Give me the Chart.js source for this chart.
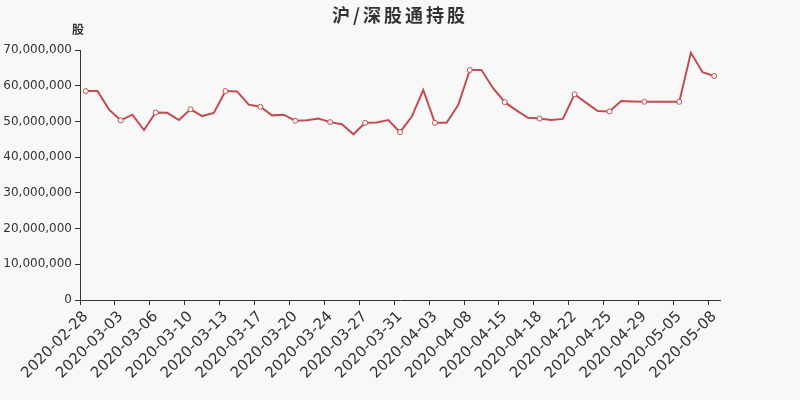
<!DOCTYPE html>
<html>
<head>
<meta charset="utf-8">
<script src="https://cdn.jsdelivr.net/npm/chart.js@4"></script>
<style>
  html, body { margin: 0; padding: 0; background: #f8f8f8; }
  #wrap { width: 800px; height: 400px; }
</style>
</head>
<body>
<div id="wrap"><canvas id="holdChart" width="800" height="400"></canvas></div>
<script>
const dates = [
  "2020-02-28", "2020-02-29", "2020-03-02", "2020-03-03", "2020-03-04", "2020-03-05",
  "2020-03-06", "2020-03-07", "2020-03-09", "2020-03-10", "2020-03-11", "2020-03-12",
  "2020-03-13", "2020-03-14", "2020-03-16", "2020-03-17", "2020-03-18", "2020-03-19",
  "2020-03-20", "2020-03-21", "2020-03-23", "2020-03-24", "2020-03-25", "2020-03-26",
  "2020-03-27", "2020-03-28", "2020-03-30", "2020-03-31", "2020-04-01", "2020-04-02",
  "2020-04-03", "2020-04-04", "2020-04-07", "2020-04-08", "2020-04-09", "2020-04-14",
  "2020-04-15", "2020-04-16", "2020-04-17", "2020-04-18", "2020-04-20", "2020-04-21",
  "2020-04-22", "2020-04-23", "2020-04-24", "2020-04-25", "2020-04-27", "2020-04-28",
  "2020-04-29", "2020-04-30", "2020-05-04", "2020-05-05", "2020-05-06", "2020-05-07",
  "2020-05-08"
];

// shares held, in millions
const holdings = [
  58.5, 58.5, 53.3, 50.3, 51.9, 47.6, 52.5, 52.4, 50.4, 53.4, 51.5, 52.4,
  58.5, 58.4, 54.7, 54.1, 51.7, 51.9, 50.2, 50.3, 50.8, 49.8, 49.2, 46.4,
  49.6, 49.7, 50.4, 47.0, 51.3, 58.8, 49.6, 49.6, 54.6, 64.4, 64.4, 59.3,
  55.4, 53.1, 51.0, 50.8, 50.4, 50.7, 57.6, 55.2, 52.9, 52.8, 55.7, 55.6,
  55.5, 55.5, 55.5, 55.5, 69.2, 63.8, 62.7
];

const yTicks = [0, 10000000, 20000000, 30000000, 40000000, 50000000, 60000000, 70000000];

const chartTitle = "沪/深股通持股";
const unitLabel = "股";
const lineColor = "#c14c51";

const textPlugin = {
  id: "textPlugin",
  afterDraw(chart) {
    const ctx = chart.ctx;
    ctx.save();
    ctx.fillStyle = "#333";
    ctx.textBaseline = "middle";
    ctx.textAlign = "center";
    ctx.font = 'bold 18px "Noto Sans CJK SC"';
    ctx.letterSpacing = "3px";
    ctx.fillText(chartTitle, 400, 15);
    ctx.letterSpacing = "0px";
    ctx.font = 'bold 12px "Noto Sans CJK SC"';
    ctx.fillText(unitLabel, chart.chartArea.left - 2, 29);
    ctx.restore();
  }
};

const ctx = document.getElementById("holdChart").getContext("2d");
new Chart(ctx, {
  type: "line",
  data: {
    labels: dates,
    datasets: [{
      data: holdings.map(v => Math.round(v * 1000000)),
      borderColor: lineColor,
      borderWidth: 2,
      tension: 0,
      pointRadius: c => (c.dataIndex % 3 === 0 ? 2.5 : 0),
      pointBackgroundColor: "#fff",
      pointBorderColor: lineColor,
      pointBorderWidth: 1
    }]
  },
  options: {
    responsive: false,
    animation: false,
    layout: { padding: { top: 50, right: 80, left: 0, bottom: 0 } },
    plugins: {
      legend: { display: false },
      tooltip: { enabled: false },
      title: { display: false }
    },
    scales: {
      x: {
        offset: true,
        grid: {
          offset: true,
          drawOnChartArea: false,
          drawTicks: true,
          tickLength: 5,
          color: c => (c.index % 3 === 0 ? "#333" : "rgba(0,0,0,0)")
        },
        border: { display: true, color: "#333", width: 1 },
        ticks: {
          autoSkip: false,
          minRotation: 45,
          maxRotation: 45,
          color: "#333",
          padding: 3,
          font: { family: "DejaVu Sans", size: 15 },
          callback: function (val, i) {
            return i % 3 === 0 ? this.getLabelForValue(val) : "";
          }
        },
        afterFit: s => { s.height = 100; }
      },
      y: {
        min: 0,
        max: 70000000,
        afterBuildTicks: s => { s.ticks = yTicks.map(v => ({ value: v })); },
        grid: {
          drawOnChartArea: false,
          drawTicks: true,
          tickLength: 5,
          color: "#333"
        },
        border: { display: true, color: "#333", width: 1 },
        ticks: {
          color: "#333",
          padding: 3,
          font: { family: "DejaVu Sans", size: 12 },
          callback: v => v.toLocaleString("en-US")
        },
        afterFit: s => { s.width = 80; }
      }
    }
  },
  plugins: [textPlugin]
});
</script>
</body>
</html>
